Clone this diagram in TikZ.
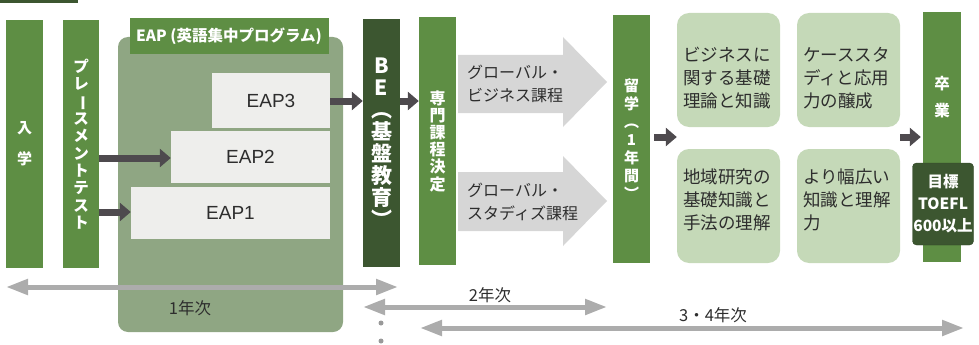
\documentclass[tikz,border=0pt]{standalone}
\usepackage{fontspec}
\usepackage{graphicx}
\setmainfont{Liberation Sans}
\newfontfamily\jp{Noto Sans CJK JP}
\usetikzlibrary{arrows.meta}
\definecolor{gmid}{RGB}{94,142,68}
\definecolor{gdark}{RGB}{60,86,48}
\definecolor{eapbg}{RGB}{143,166,131}
\definecolor{eapbox}{RGB}{238,238,236}
\definecolor{lgreen}{RGB}{197,217,184}
\definecolor{lgray}{RGB}{214,214,214}
\definecolor{bgray}{RGB}{172,172,172}
\definecolor{adark}{RGB}{78,74,78}
\definecolor{tdark}{RGB}{45,45,45}
\newcommand{\vbar}{\rotatebox[origin=c]{-90}{ー}}
\begin{document}
\begin{tikzpicture}[x=1pt,y=-1pt,
  bar/.style={fill=gmid, inner sep=0pt, minimum width=37pt, minimum height=248pt, text=white, align=center},
  eapb/.style={fill=eapbox, inner sep=0pt, font=\fontsize{19}{22}\selectfont, text=tdark},
  gbox/.style={fill=lgreen, rounded corners=12pt, inner sep=0pt, minimum width=103pt, minimum height=114pt},
  gtxt/.style={font=\jp\fontsize{17.5}{23}\selectfont, text=tdark, align=left, inner sep=0pt, anchor=west},
  atxt/.style={font=\jp\fontsize{16}{23}\selectfont, text=tdark, align=left, inner sep=0pt, anchor=west},
  darr/.style={draw=adark, line width=7pt, -{Triangle[length=11pt,width=18pt]}},
  barr/.style={draw=bgray, line width=5pt, {Triangle[length=22pt,width=15pt]}-{Triangle[length=22pt,width=15pt]}},
  ytxt/.style={font=\jp\fontsize{16.5}{18}\selectfont, text=tdark, inner sep=0pt}
]
\useasboundingbox (0,0) rectangle (979,345);
% top-left tab
\fill[gdark] (0,0) rectangle (78,3);
% EAP region
\node[fill=eapbg, rounded corners=10pt, minimum width=225pt, minimum height=295pt, inner sep=0pt] (eap) at (230.5,184.5) {};
\node[fill=gmid, minimum width=199pt, minimum height=36pt, inner sep=0pt, text=white, font=\jp\bfseries\fontsize{15.5}{17}\selectfont] (eaph) at (229,36) {EAP (英語集中プログラム)};
\node[eapb, minimum width=118pt, minimum height=55pt] (eap3) at (271,100.5) {EAP3};
\node[eapb, minimum width=159pt, minimum height=52pt] (eap2) at (250.5,157) {EAP2};
\node[eapb, minimum width=199pt, minimum height=52pt] (eap1) at (230.5,213) {EAP1};
% bars
\node[bar, font=\jp\bfseries\fontsize{15}{31}\selectfont] (nyu) at (24.5,144) {入\\学};
\node[bar, minimum width=36pt, font=\jp\bfseries\fontsize{15.5}{17.4}\selectfont] (pt) at (81,144) {プ\\レ\\\vbar\\ス\\メ\\ン\\ト\\テ\\ス\\ト};
\node[bar, fill=gdark, font=\jp\bfseries\fontsize{21}{22}\selectfont] (be) at (381.5,143) {B\\E\\︵\\基\\盤\\教\\育\\︶};
\node[bar, font=\jp\bfseries\fontsize{16}{17.2}\selectfont] (sen) at (437.5,141) {専\\門\\課\\程\\決\\定};
\node[bar, font=\jp\bfseries\fontsize{15}{18}\selectfont] (ryu) at (631.5,139) {留\\学\\︵\\1\\年\\間\\︶};
\node[bar, minimum width=38pt, minimum height=250pt] (sotsu) at (942,137) {};
\node[text=white, font=\jp\bfseries\fontsize{15.5}{27}\selectfont, align=center, inner sep=0pt] (sotsut) at (942,97) {卒\\業};
\node[fill=gdark, draw=gdark!80!black, rounded corners=4pt, minimum width=61pt, minimum height=82pt, inner sep=0pt, text=white, align=center, font=\jp\bfseries\fontsize{15.5}{22}\selectfont] (goal) at (943,204) {目標\\TOEFL\\600以上};
% big gray arrows
\fill[lgray] (458,55) -- (563,55) -- (563,37) -- (607,82) -- (563,127) -- (563,113) -- (458,113) -- cycle;
\fill[lgray] (458,172) -- (563,172) -- (563,156) -- (607,201) -- (563,246) -- (563,231) -- (458,231) -- cycle;
\node[atxt] (gb) at (467,83.5) {グローバル・\\ビジネス課程};
\node[atxt] (gs) at (467,201.5) {グローバル・\\スタディズ課程};
% light green boxes
\node[gbox] (b1) at (728.5,70) {};
\node[gbox] (b2) at (848.5,70) {};
\node[gbox] (b3) at (728.5,206) {};
\node[gbox] (b4) at (848.5,206) {};
\node[gtxt] (t1) at (683,78) {ビジネスに\\関する基礎\\理論と知識};
\node[gtxt] (t2) at (803,78) {ケーススタ\\ディと応用\\力の醸成};
\node[gtxt] (t3) at (683,200) {地域研究の\\基礎知識と\\手法の理解};
\node[gtxt] (t4) at (803,200) {より幅広い\\知識と理解\\力};
% helper coordinates
\coordinate (y101) at (0,101);
\coordinate (y137) at (0,137);
\coordinate (y158) at (0,158);
\coordinate (y212) at (0,212);
% dark arrows
\draw[darr] (pt.east |- y158) -- (eap2.west |- y158);
\draw[darr] (pt.east |- y212) -- (eap1.west |- y212);
\draw[darr] (eap3.east |- y101) -- (be.west |- y101);
\draw[darr] (be.east |- y101) -- (sen.west |- y101);
\draw[darr, shorten <=4pt] (ryu.east |- y137) -- (b1.west |- y137);
\draw[darr, shorten >=2pt] (b2.east |- y137) -- (sotsu.west |- y137);
% bottom arrows
\coordinate (a1l) at (6,287);
\coordinate (a1r) at (398,287);
\coordinate (a2l) at (363,307);
\coordinate (a2r) at (607,307);
\coordinate (a3l) at (420,328);
\coordinate (a3r) at (964,328);
\draw[barr] (a1l) -- (a1r);
\draw[barr] (a2l) -- (a2r);
\draw[barr] (a3l) -- (a3r);
\node[ytxt] (y1) at (190,308) {1年次};
\node[ytxt] (y2) at (490,295) {2年次};
\node[ytxt] (y3) at (713,315) {3・4年次};
% dots
\fill[gray!80] (381,323) circle (2.5pt);
\fill[gray!80] (381,341) circle (2.5pt);
\end{tikzpicture}
\end{document}
